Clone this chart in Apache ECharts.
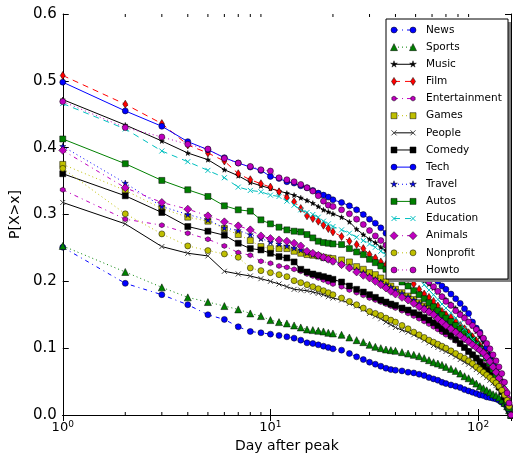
<!DOCTYPE html>
<html><head><meta charset="utf-8">
<script src="https://cdn.jsdelivr.net/npm/echarts@6/dist/echarts.min.js"></script>
<style>html,body{margin:0;padding:0;background:#fff}#c{width:513px;height:460px}</style>
</head><body><div id="c"></div>
<script>
const days = [1,2,3,4,5,6,7,8,9,10,11,12,13,14,15,16,17,18,19,20,
  22,24,26,28,30,32,34,36,38,40,
  43,46,49,52,55,58,61,64,67,70,
  74,78,82,86,90,94,98,102,106,110,114,118,122,126,130,134,138,
  141,144];

const news = [.251,.197,.180,.165,.150,.143,.132,.125,.123,.121,.119,.117,.115,.112,.108,.107,.105,.103,.101,.099,
 .097,.092,.087,.083,.079,.076,.073,.070,.068,.067,
 .066,.064,.063,.061,.059,.056,.054,.052,.049,.047,
 .045,.043,.041,.038,.036,.034,.032,.030,.029,.027,.026,.025,.024,.022,.019,.016,.011,
 .006,0];
const sports = [.253,.214,.191,.176,.169,.163,.158,.152,.148,.142,.139,.137,.134,.131,.128,.127,.126,.125,.123,.122,
 .120,.116,.112,.109,.105,.102,.100,.098,.097,.096,
 .094,.092,.090,.088,.085,.082,.079,.077,.075,.072,
 .069,.066,.062,.058,.055,.051,.047,.043,.040,.037,.034,.031,.029,.026,.022,.018,.013,
 .007,0];
const music = [.472,.434,.410,.392,.382,.367,.358,.348,.343,.339,.335,.332,.329,.325,.321,.317,.312,.307,.304,.301,
 .296,.289,.278,.270,.263,.258,.251,.246,.242,.236,
 .228,.221,.214,.208,.201,.196,.190,.184,.178,.173,
 .166,.160,.153,.147,.140,.133,.125,.117,.109,.100,.092,.083,.073,.063,.052,.040,.026,
 .013,0];
const film = [.508,.465,.436,.404,.392,.380,.361,.352,.346,.341,.334,.325,.319,.309,.298,.294,.290,.284,.279,.274,
 .267,.260,.255,.249,.240,.235,.229,.225,.220,.216,
 .210,.204,.196,.188,.181,.176,.170,.163,.155,.150,
 .146,.140,.134,.129,.123,.117,.111,.104,.097,.090,.083,.075,.067,.058,.048,.037,.024,
 .012,0];
const entertainment = [.337,.293,.284,.272,.263,.253,.243,.239,.230,.227,.223,.221,.218,.215,.211,.208,.205,.202,.199,.196,
 .192,.187,.183,.179,.175,.172,.169,.166,.163,.160,
 .156,.152,.148,.144,.140,.136,.132,.128,.124,.120,
 .116,.111,.106,.101,.096,.091,.086,.081,.076,.071,.065,.059,.053,.046,.038,.030,.019,
 .010,0];
const games = [.375,.336,.309,.296,.290,.279,.270,.261,.252,.249,.249,.249,.245,.242,.240,.239,.238,.236,.235,.234,
 .232,.229,.222,.218,.213,.210,.205,.199,.193,.188,
 .183,.178,.173,.168,.163,.159,.155,.150,.145,.141,
 .136,.131,.126,.121,.116,.111,.106,.100,.093,.086,.079,.071,.062,.053,.043,.033,.021,
 .011,0];
const people = [.318,.286,.252,.242,.238,.215,.211,.208,.204,.200,.196,.192,.188,.187,.186,.184,.182,.180,.177,.175,
 .172,.167,.163,.158,.152,.148,.144,.139,.135,.131,
 .127,.124,.120,.116,.112,.108,.104,.101,.098,.095,
 .091,.087,.083,.079,.076,.072,.068,.064,.060,.056,.052,.048,.044,.039,.033,.026,.017,
 .009,0];
const comedy = [.361,.328,.303,.282,.275,.269,.257,.249,.247,.242,.237,.235,.229,.218,.214,.211,.209,.207,.205,.203,
 .199,.193,.188,.184,.180,.176,.172,.169,.166,.164,
 .160,.157,.153,.150,.146,.142,.138,.134,.129,.125,
 .119,.113,.107,.101,.095,.090,.085,.079,.073,.067,.061,.055,.049,.042,.035,.027,.018,
 .009,0];
const tech = [.498,.455,.432,.409,.397,.385,.377,.371,.366,.357,.354,.349,.347,.343,.340,.336,.332,.329,.326,.322,
 .318,.313,.307,.300,.293,.287,.280,.272,.266,.260,
 .253,.246,.239,.233,.225,.216,.207,.200,.193,.188,
 .181,.174,.167,.159,.152,.139,.130,.124,.114,.101,.088,.078,.070,.055,.043,.030,.017,
 .008,0];
const travel = [.402,.347,.312,.300,.292,.280,.276,.270,.264,.259,.256,.253,.250,.247,.243,.240,.238,.235,.233,.230,
 .226,.222,.217,.213,.208,.203,.199,.195,.191,.187,
 .182,.177,.172,.167,.162,.158,.154,.150,.146,.142,
 .137,.132,.128,.123,.118,.113,.108,.102,.096,.090,.083,.076,.068,.059,.049,.038,.025,
 .013,0];
const autos = [.413,.376,.351,.337,.327,.313,.307,.305,.292,.286,.281,.277,.275,.274,.270,.265,.260,.258,.257,.256,
 .255,.249,.244,.240,.233,.228,.223,.218,.212,.207,
 .199,.193,.186,.180,.174,.168,.162,.156,.150,.145,
 .140,.134,.129,.124,.118,.112,.105,.099,.092,.085,.077,.068,.058,.050,.041,.031,.020,
 .010,0];
const education = [.466,.428,.395,.379,.366,.355,.341,.336,.334,.329,.327,.320,.314,.307,.303,.300,.296,.290,.286,.282,
 .277,.272,.266,.261,.256,.251,.245,.240,.235,.230,
 .224,.218,.212,.204,.195,.187,.180,.173,.166,.160,
 .153,.145,.137,.129,.120,.113,.105,.098,.091,.086,.080,.073,.066,.058,.050,.039,.026,
 .014,0];
const animals = [.396,.340,.318,.308,.298,.289,.283,.277,.268,.264,.262,.260,.257,.253,.245,.242,.239,.236,.233,.230,
 .225,.220,.214,.209,.205,.200,.195,.190,.185,.181,
 .176,.172,.167,.162,.158,.154,.150,.144,.139,.134,
 .129,.124,.119,.114,.110,.105,.101,.097,.093,.087,.080,.072,.064,.055,.047,.038,.026,
 .014,0];
const nonprofit = [.369,.301,.271,.253,.246,.241,.236,.220,.216,.213,.210,.207,.201,.198,.195,.192,.189,.186,.183,.180,
 .175,.170,.165,.160,.155,.152,.149,.145,.142,.139,
 .134,.129,.124,.120,.116,.112,.109,.106,.103,.100,
 .096,.092,.088,.085,.081,.077,.072,.068,.064,.060,.056,.052,.048,.043,.037,.030,.022,
 .013,0];
const howto = [.469,.430,.416,.405,.398,.384,.377,.372,.367,.365,.355,.352,.349,.345,.340,.335,.328,.320,.314,.312,
 .307,.301,.293,.285,.276,.268,.261,.254,.247,.241,
 .234,.227,.220,.213,.206,.199,.192,.185,.177,.170,
 .164,.156,.150,.145,.139,.134,.128,.122,.115,.107,.099,.090,.081,.072,.062,.049,.033,
 .018,0];

const yTicks = [0, 0.1, 0.2, 0.3, 0.4, 0.5, 0.6];
const xMinorTicks = [2,3,4,5,6,7,8,9,20,30,40,50,60,70,80,90];

const DASH = [6, 5], DOT = [1, 3], DASHDOT = [4, 4, 1, 4];

// name, values, color, marker kind, marker size [w,h], line dash
const defs = [
  ['News', news, '#0000ff', 'circle', [6, 6], DASHDOT],
  ['Sports', sports, '#008000', 'triangle', [7, 7], DOT],
  ['Music', music, '#000000', 'star', [6, 6], null],
  ['Film', film, '#ff0000', 'diamond', [5, 8], DASH],
  ['Entertainment', entertainment, '#bf00bf', 'hex', [5, 5], DASHDOT],
  ['Games', games, '#bfbf00', 'rect', [6, 6], DOT],
  ['People', people, '#000000', 'x', [5, 5], null],
  ['Comedy', comedy, '#000000', 'rect', [6, 6], null],
  ['Tech', tech, '#0000ff', 'circle', [6, 6], null],
  ['Travel', travel, '#0000ff', 'star', [6, 6], DOT],
  ['Autos', autos, '#008000', 'rect', [6, 6], null],
  ['Education', education, '#00bfbf', 'x', [5, 5], DASH],
  ['Animals', animals, '#bf00bf', 'diamond', [8, 8], DASHDOT],
  ['Nonprofit', nonprofit, '#bfbf00', 'circle', [6, 6], DOT],
  ['Howto', howto, '#bf00bf', 'circle', [6, 6], DOT]
];

const SYM = {
  circle: 'circle', triangle: 'triangle', diamond: 'diamond', rect: 'rect',
  star: 'path://M50,0L61.8,35.3L98.9,35.5L69.1,57.7L80.3,93.1L50,71.5L19.7,93.1L30.9,57.7L1.1,35.5L38.2,35.3Z',
  hex: 'path://M50,0L93.3,25L93.3,75L50,100L6.7,75L6.7,25Z',
  x: 'path://M0,0L10,10M10,0L0,10'
};

const series = defs.map(([name, vals, color, kind, size, dash]) => {
  const isX = kind === 'x';
  return {
    name, type: 'line',
    xAxisIndex: 0, yAxisIndex: 0,
    data: days.map((d, i) => [d, vals[i]]),
    symbol: SYM[kind], symbolSize: (kind === 'star' && name === 'Music') ? 5 : size, showAllSymbol: true,
    lineStyle: { color, width: 1, type: dash || 'solid' },
    itemStyle: isX ? { color: 'rgba(0,0,0,0)', borderColor: name === 'People' ? '#444' : color, borderWidth: 1 }
                   : { color, borderColor: '#000', borderWidth: 0.5 },
    emphasis: { disabled: true },
    animation: false
  };
});

series.push({
  type: 'custom', xAxisIndex: 0, yAxisIndex: 0, silent: true, z: 10,
  data: xMinorTicks.map(v => [v, 0]),
  renderItem: (params, api) => {
    const x = api.coord([api.value(0), 0])[0];
    const yb = api.coord([1, 0])[1];
    const yt = api.coord([1, 0.6])[1];
    return { type: 'group', children: [
      { type: 'line', shape: { x1: x, y1: yb, x2: x, y2: yb - 3 }, style: { stroke: '#000', lineWidth: 1 } },
      { type: 'line', shape: { x1: x, y1: yt, x2: x, y2: yt + 3 }, style: { stroke: '#000', lineWidth: 1 } }
    ] };
  }
});

// ---- legend (matplotlib style: line with a marker at each end) ----
const FONT = 'DejaVu Sans';
const LG = { left: 386, top: 19, width: 122, height: 260, first: 30, pitch: 17.14, x1: 394, x2: 413, tx: 426 };

function marker(kind, cx, cy, size, color, name) {
  const w = size[0], h = size[1];
  const st = { fill: color, stroke: '#000', lineWidth: 0.5 };
  if (kind === 'circle') return [{ type: 'circle', shape: { cx, cy, r: w / 2 }, style: st }];
  if (kind === 'rect') return [{ type: 'rect', shape: { x: cx - w / 2, y: cy - h / 2, width: w, height: h }, style: st }];
  if (kind === 'triangle') return [{ type: 'polygon', shape: { points: [[cx, cy - h / 2], [cx + w / 2, cy + h / 2], [cx - w / 2, cy + h / 2]] }, style: st }];
  if (kind === 'diamond') return [{ type: 'polygon', shape: { points: [[cx, cy - h / 2], [cx + w / 2, cy], [cx, cy + h / 2], [cx - w / 2, cy]] }, style: st }];
  if (kind === 'hex') {
    const pts = [];
    for (let k = 0; k < 6; k++) { const a = Math.PI / 2 + k * Math.PI / 3; pts.push([cx + w / 2 * Math.cos(a), cy - w / 2 * Math.sin(a)]); }
    return [{ type: 'polygon', shape: { points: pts }, style: st }];
  }
  if (kind === 'star') {
    const pts = [];
    for (let k = 0; k < 10; k++) { const r = k % 2 ? w * 0.2 : w / 2 + 0.5; const a = Math.PI / 2 + k * Math.PI / 5; pts.push([cx + r * Math.cos(a), cy - r * Math.sin(a)]); }
    return [{ type: 'polygon', shape: { points: pts }, style: st }];
  }
  const c = name === 'People' ? '#444' : color;
  return [
    { type: 'line', shape: { x1: cx - w / 2, y1: cy - h / 2, x2: cx + w / 2, y2: cy + h / 2 }, style: { stroke: c, lineWidth: 1 } },
    { type: 'line', shape: { x1: cx + w / 2, y1: cy - h / 2, x2: cx - w / 2, y2: cy + h / 2 }, style: { stroke: c, lineWidth: 1 } }
  ];
}

const legendEls = [
  { type: 'rect', shape: { x: LG.left + 3, y: LG.top + 3, width: LG.width, height: LG.height }, style: { fill: '#808080' }, z: 100 },
  { type: 'rect', shape: { x: LG.left, y: LG.top, width: LG.width, height: LG.height }, style: { fill: '#fff', stroke: '#000', lineWidth: 1 }, z: 101 }
];
defs.forEach(([name, vals, color, kind, size, dash], i) => {
  const cy = LG.first + i * LG.pitch;
  legendEls.push({ type: 'line', z: 102, shape: { x1: LG.x1, y1: cy, x2: LG.x2, y2: cy },
    style: { stroke: color, lineWidth: 1, lineDash: dash || null } });
  marker(kind, LG.x1, cy, size, color, name).concat(marker(kind, LG.x2, cy, size, color, name))
    .forEach(el => { el.z = 103; legendEls.push(el); });
  legendEls.push({ type: 'text', z: 103, x: LG.tx, y: cy,
    style: { text: name, fontSize: 10.5, fontFamily: FONT, fill: '#000', verticalAlign: 'middle', align: 'left' } });
});

function xLabel(v) {
  const e = Math.log10(v);
  if (Math.abs(e - Math.round(e)) < 1e-6) return '{b|10}{s|' + Math.round(e) + '}';
  return '';
}

const chart = echarts.init(document.getElementById('c'), null, { renderer: 'canvas' });
chart.setOption({
  animation: false,
  backgroundColor: '#fff',
  textStyle: { fontFamily: FONT },
  grid: { left: 61, right: 2, top: 14, bottom: 45, containLabel: false },
  xAxis: [{
    type: 'log', logBase: 10, min: 1, max: 144, position: 'bottom',
    name: 'Day after peak', nameLocation: 'middle', nameGap: 23,
    nameTextStyle: { fontSize: 14, color: '#000', fontFamily: FONT },
    axisLine: { show: true, lineStyle: { color: '#000', width: 1 } },
    axisTick: { show: true, inside: true, length: 6, lineStyle: { color: '#000' } },
    axisLabel: {
      formatter: xLabel, margin: 5, color: '#000', showMaxLabel: false,
      rich: { b: { fontSize: 13, fontFamily: FONT, color: '#000' },
              s: { fontSize: 9, fontFamily: FONT, color: '#000', padding: [0, 0, 7, 0] } }
    },
    splitLine: { show: false }, minorTick: { show: false }
  }, {
    type: 'log', logBase: 10, min: 1, max: 144, position: 'top',
    axisLine: { show: true, lineStyle: { color: '#000', width: 1 } },
    axisTick: { show: true, inside: true, length: 6, lineStyle: { color: '#000' } },
    axisLabel: { show: false }, splitLine: { show: false }
  }],
  yAxis: [{
    type: 'value', min: yTicks[0], max: yTicks[yTicks.length - 1], interval: 0.1, position: 'left',
    name: 'P[X>x]', nameLocation: 'middle', nameGap: 36,
    nameTextStyle: { fontSize: 14, color: '#000', fontFamily: FONT },
    axisLine: { show: true, lineStyle: { color: '#000', width: 1 } },
    axisTick: { show: true, inside: true, length: 6, lineStyle: { color: '#000' } },
    axisLabel: { formatter: v => v.toFixed(1), fontSize: 15, color: '#000', margin: 6, fontFamily: FONT },
    splitLine: { show: false }
  }, {
    type: 'value', min: yTicks[0], max: yTicks[yTicks.length - 1], interval: 0.1, position: 'right',
    axisLine: { show: true, lineStyle: { color: '#000', width: 1 } },
    axisTick: { show: true, inside: true, length: 6, lineStyle: { color: '#000' } },
    axisLabel: { show: false }, splitLine: { show: false }
  }],
  graphic: legendEls,
  series
});
</script></body></html>
